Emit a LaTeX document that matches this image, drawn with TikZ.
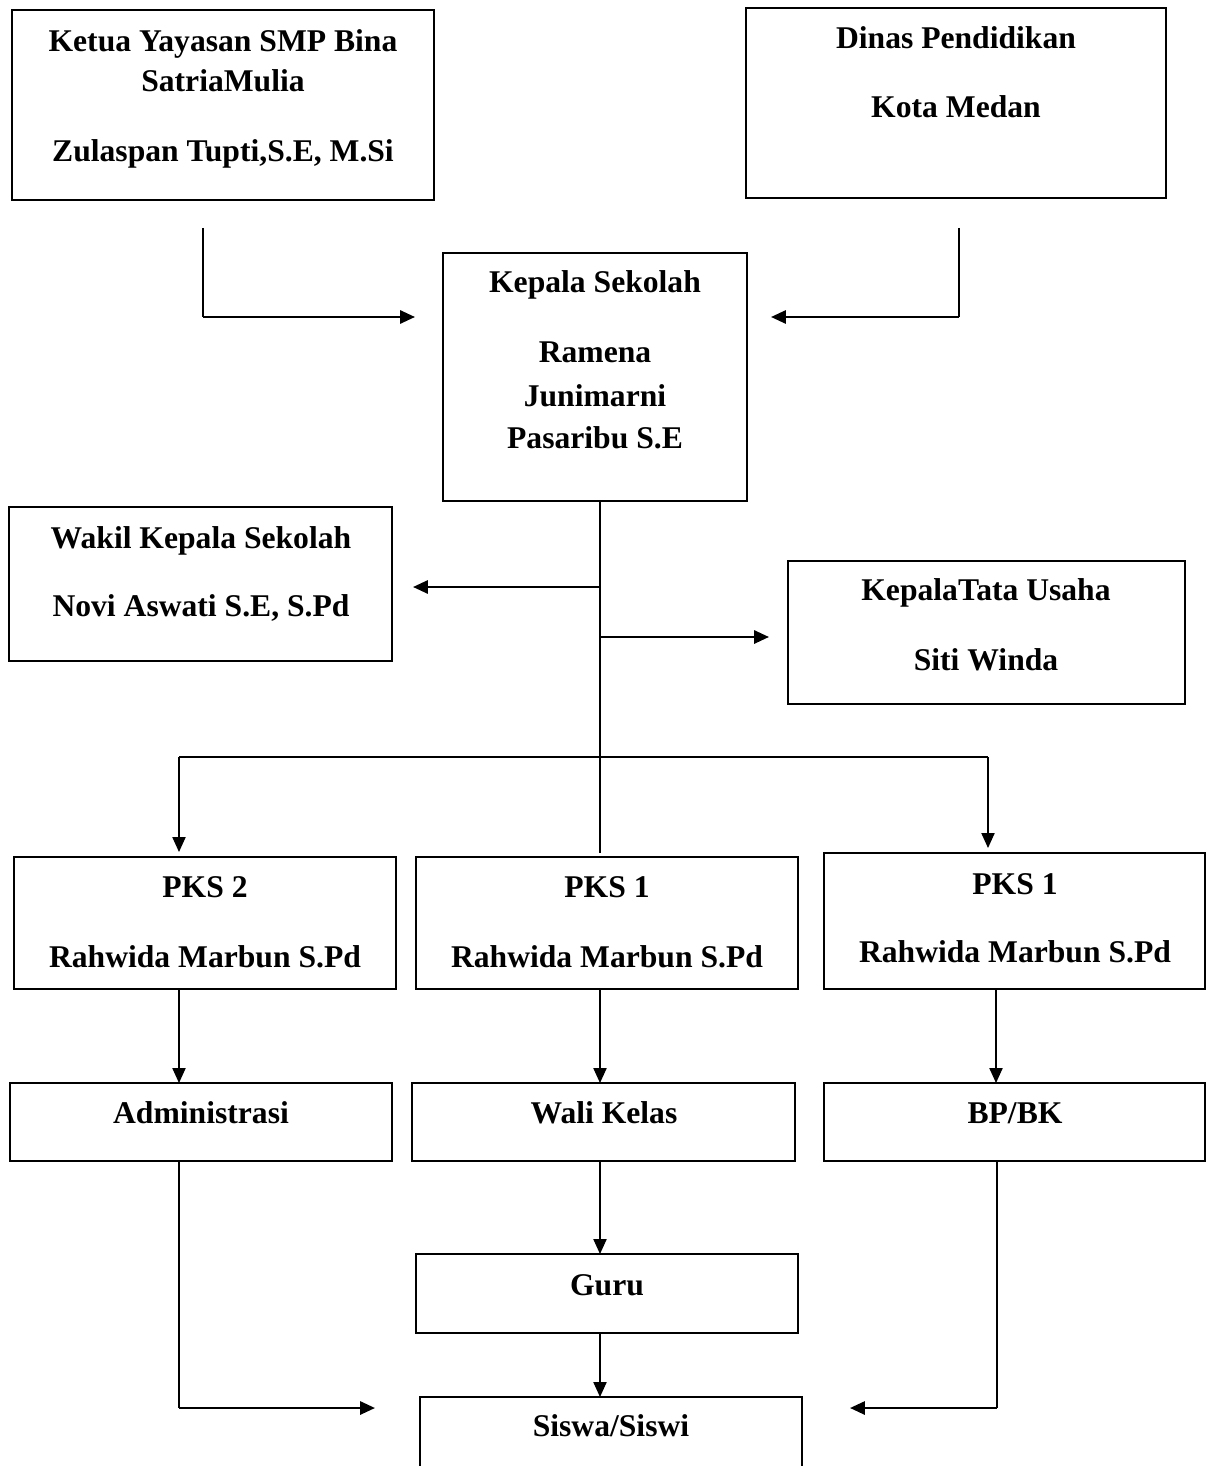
\documentclass[tikz,border=0pt]{standalone}
\usepackage{fontspec}
\setmainfont{Liberation Serif}
\usetikzlibrary{arrows.meta}
\begin{document}
\begin{tikzpicture}[x=0.02cm,y=-0.02cm,
  box/.style={draw,line width=1.2pt,rectangle,inner sep=0pt,outer sep=0pt,anchor=north west},
  lbl/.style={anchor=base,inner sep=0pt,font=\bfseries\fontsize{18}{22}\selectfont},
  thinc/.style={line width=0.8pt},
  thickc/.style={line width=1.4pt},
  tip/.style={-{Triangle[length=8.5pt,width=7.5pt]}}]
\useasboundingbox (0,0) rectangle (1206,1466);
\clip (0,0) rectangle (1206,1466);

% boxes
\node[box,minimum width=8.44cm,minimum height=3.80cm] (ketua) at (12,10) {};
\node[box,minimum width=8.40cm,minimum height=3.80cm] (dinas) at (746,8) {};
\node[box,minimum width=6.08cm,minimum height=4.96cm] (kepsek) at (443,253) {};
\node[box,minimum width=7.66cm,minimum height=3.08cm] (wakil) at (9,507) {};
\node[box,minimum width=7.94cm,minimum height=2.86cm] (ktu) at (788,561) {};
\node[box,minimum width=7.64cm,minimum height=2.64cm] (pksa) at (14,857) {};
\node[box,minimum width=7.64cm,minimum height=2.64cm] (pksb) at (416,857) {};
\node[box,minimum width=7.62cm,minimum height=2.72cm] (pksc) at (824,853) {};
\node[box,minimum width=7.64cm,minimum height=1.56cm] (adm) at (10,1083) {};
\node[box,minimum width=7.66cm,minimum height=1.56cm] (wali) at (412,1083) {};
\node[box,minimum width=7.62cm,minimum height=1.56cm] (bpbk) at (824,1083) {};
\node[box,minimum width=7.64cm,minimum height=1.58cm] (guru) at (416,1254) {};
\node[box,minimum width=7.64cm,minimum height=2.20cm] (siswa) at (420,1397) {};

% texts
\node[lbl] (t1) at (223,52) {Ketua Yayasan SMP Bina};
\node[lbl] (t2) at (223,92) {SatriaMulia};
\node[lbl] (t3) at (223,162) {Zulaspan Tupti,S.E, M.Si};
\node[lbl] (t4) at (956,49) {Dinas Pendidikan};
\node[lbl] (t5) at (956,118) {Kota Medan};
\node[lbl] (t6) at (595,293) {Kepala Sekolah};
\node[lbl] (t7) at (595,362) {Ramena};
\node[lbl] (t8) at (595,406) {Junimarni};
\node[lbl] (t9) at (595,448) {Pasaribu S.E};
\node[lbl] (t10) at (201,548) {Wakil Kepala Sekolah};
\node[lbl] (t11) at (201,616) {Novi Aswati S.E, S.Pd};
\node[lbl] (t12) at (986,600) {KepalaTata Usaha};
\node[lbl] (t13) at (986,670) {Siti Winda};
\node[lbl] (t14) at (205,897) {PKS 2};
\node[lbl] (t15) at (205,967) {Rahwida Marbun S.Pd};
\node[lbl] (t16) at (607,897) {PKS 1};
\node[lbl] (t17) at (607,967) {Rahwida Marbun S.Pd};
\node[lbl] (t18) at (1015,894) {PKS 1};
\node[lbl] (t19) at (1015,962) {Rahwida Marbun S.Pd};
\node[lbl] (t20) at (201,1123) {Administrasi};
\node[lbl] (t21) at (604,1123) {Wali Kelas};
\node[lbl] (t22) at (1015,1123) {BP/BK};
\node[lbl] (t23) at (607,1295) {Guru};
\node[lbl] (t24) at (611,1436) {Siswa/Siswi};

% coordinates for connectors
\coordinate (xl) at (179,0);
\coordinate (xm) at (600,0);
\coordinate (xr) at (996,0);
\coordinate (a1) at (203,228);
\coordinate (a2) at (203,317);
\coordinate (a3) at (415,317);
\coordinate (b1) at (959,228);
\coordinate (b2) at (959,317);
\coordinate (b3) at (771,317);
\coordinate (s2) at (600,853);
\coordinate (w1) at (600,587);
\coordinate (w2) at (413,587);
\coordinate (u1) at (600,637);
\coordinate (u2) at (769,637);
\coordinate (h1) at (179,757);
\coordinate (h2) at (988,757);
\coordinate (h3) at (179,852);
\coordinate (h4) at (988,848);
\coordinate (l1) at (179,1408);
\coordinate (l2) at (375,1408);
\coordinate (r1) at (997,1408);
\coordinate (r2) at (850,1408);

% top connectors
\draw[thinc] (a1) -- (a2);
\draw[thickc,tip] (a2) -- (a3);
\draw[thinc] (b1) -- (b2);
\draw[thickc,tip] (b2) -- (b3);

% spine from Kepala Sekolah
\draw[thinc] (kepsek.south -| xm) -- (s2);
\draw[thickc,tip] (w1) -- (w2);
\draw[thickc,tip] (u1) -- (u2);
\draw[line width=1.1pt] (h1) -- (h2);
\draw[thinc,tip] (h1) -- (h3);
\draw[thinc,tip] (h2) -- (h4);

% PKS to second row
\draw[thinc,tip] (pksa.south -| xl) -- (adm.north -| xl);
\draw[thinc,tip] (pksb.south -| xm) -- (wali.north -| xm);
\draw[thinc,tip] (pksc.south -| xr) -- (bpbk.north -| xr);

% to Guru and Siswa
\draw[thinc,tip] (wali.south -| xm) -- (guru.north -| xm);
\draw[thinc,tip] (guru.south -| xm) -- (siswa.north -| xm);
\draw[thinc] (adm.south -| xl) -- (l1);
\draw[thickc,tip] (l1) -- (l2);
\draw[thinc] (bpbk.south -| r1) -- (r1);
\draw[thickc,tip] (r1) -- (r2);
\end{tikzpicture}
\end{document}
